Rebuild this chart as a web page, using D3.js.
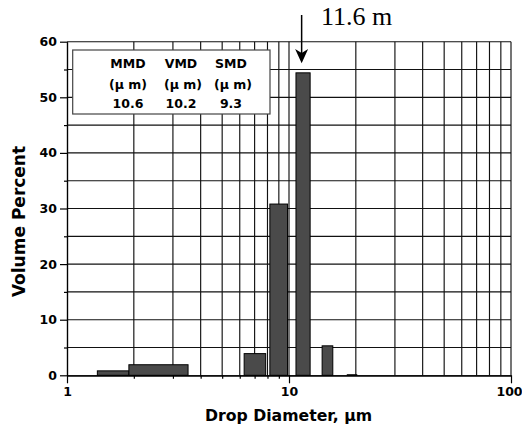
<!DOCTYPE html>
<html>
<head>
<meta charset="utf-8">
<script src="https://cdn.jsdelivr.net/npm/d3@7"></script>
<style>
  body { margin: 0; background: #fff; }
  svg text { font-family: "DejaVu Sans", Arial, sans-serif; font-weight: bold; }
</style>
</head>
<body>
<svg id="svg" width="522" height="427"></svg>
<script>
// size bins (um) and volume percent
var binLo  = [1.37, 1.90, 6.28, 8.2, 10.75, 14.1, 18.3];
var binHi  = [1.90, 3.51, 7.85, 9.85, 12.45, 15.75, 20.2];
var volume = [0.8, 1.9, 3.9, 30.8, 54.4, 5.3, 0.1];

// legend table
var legendNames  = ["MMD", "VMD", "SMD"];
var legendValues = ["10.6", "10.2", "9.3"];

// annotation
var arrowAt = 11.4;
var arrowLabel = "11.6 m";

var xTicks = [1, 10, 100];
var yTicks = [0, 10, 20, 30, 40, 50, 60];

var svg = d3.select("#svg");
var plotLeft = 67, plotRight = 511, plotTop = 41.7, plotBottom = 375.3;

var x = d3.scaleLog().domain([1, 100]).range([plotLeft, plotRight]);
var y = d3.scaleLinear().domain([0, 60]).range([plotBottom, plotTop]);

//grid
var xGrid = [];
[1, 10].forEach(function(dec){
  for (var k = 2; k <= 10; k++) xGrid.push(k * dec);
});
svg.append("g").selectAll("line").data(xGrid).enter().append("line")
  .attr("x1", function(d){return x(d)}).attr("x2", function(d){return x(d)})
  .attr("y1", plotTop).attr("y2", plotBottom)
  .attr("stroke", "#111").attr("stroke-width", 1.15);

var yGrid = d3.range(5, 61, 5);
svg.append("g").selectAll("line").data(yGrid).enter().append("line")
  .attr("x1", plotLeft).attr("x2", plotRight)
  .attr("y1", function(d){return y(d)}).attr("y2", function(d){return y(d)})
  .attr("stroke", "#111").attr("stroke-width", 1.15);

//bars
svg.append("g").selectAll("rect").data(volume).enter().append("rect")
  .attr("x", function(d, i){return x(binLo[i])})
  .attr("width", function(d, i){return x(binHi[i]) - x(binLo[i])})
  .attr("y", function(d){return y(d)})
  .attr("height", function(d){return y(0) - y(d)})
  .attr("fill", "#4a4a4a")
  .attr("stroke", "#000").attr("stroke-width", 1);

//axes
svg.append("g").attr("transform", "translate(" + plotLeft + ",0)")
  .call(d3.axisLeft(y).tickValues(yTicks).tickSize(7).tickPadding(3).tickSizeOuter(0));
svg.append("g").attr("transform", "translate(" + plotLeft + ",0)")
  .call(d3.axisLeft(y).tickValues(d3.range(5, 60, 10)).tickSize(3).tickFormat("").tickSizeOuter(0));

var xAxis = svg.append("g").attr("transform", "translate(0," + plotBottom + ")")
  .call(d3.axisBottom(x).tickValues(xTicks).tickFormat(d3.format("d")).tickSize(8).tickPadding(4).tickSizeOuter(0));
svg.append("g").attr("transform", "translate(0," + plotBottom + ")")
  .call(d3.axisBottom(x).tickValues(xGrid.filter(function(d){return d % 10 != 0})).tickSize(3.5).tickFormat("").tickSizeOuter(0));

svg.selectAll(".tick text").style("font-size", "12.5px").attr("fill", "#000");
// keep the last x label inside the picture
xAxis.selectAll(".tick text").filter(function(d){return d == 100}).attr("dx", -2);
svg.selectAll(".domain, .tick line").attr("stroke", "#000").attr("stroke-width", 1.2);

//legend box
svg.append("rect")
  .attr("x", 72.7).attr("y", 50).attr("width", 197.3).attr("height", 64)
  .attr("fill", "#fff").attr("stroke", "#444").attr("stroke-width", 1.2);

var colX = [128, 181, 231];
var legend = svg.append("g").style("font-size", "12.5px").attr("text-anchor", "middle");
legend.selectAll(".name").data(legendNames).enter().append("text")
  .attr("x", function(d, i){return colX[i]}).attr("y", 68.3).text(function(d){return d});
legend.selectAll(".unit").data(legendNames).enter().append("text")
  .attr("x", function(d, i){return colX[i] + (i > 0 ? 2 : 0)}).attr("y", 89).text("(\u00b5 m)");
legend.selectAll(".val").data(legendValues).enter().append("text")
  .attr("x", function(d, i){return colX[i]}).attr("y", 107.7).text(function(d){return d});

//arrow
var ax = x(arrowAt);
svg.append("line")
  .attr("x1", ax).attr("x2", ax).attr("y1", 15).attr("y2", 55)
  .attr("stroke", "#000").attr("stroke-width", 1.5);
svg.append("path")
  .attr("d", "M" + ax + ",63.3 L" + (ax - 6.5) + ",49 L" + ax + ",53 L" + (ax + 6.5) + ",49 Z")
  .attr("fill", "#000");
svg.append("text")
  .attr("x", 321).attr("y", 25)
  .style("font-family", "'Liberation Serif', 'Times New Roman', serif")
  .style("font-weight", "normal").style("font-size", "26px")
  .text(arrowLabel);

//axis titles
svg.append("text")
  .attr("x", 288.5).attr("y", 420.5).attr("text-anchor", "middle").style("font-size", "15.7px")
  .text("Drop Diameter, \u00b5m");
svg.append("text")
  .attr("transform", "translate(25,221.5) rotate(-90)").attr("text-anchor", "middle").style("font-size", "17px")
  .text("Volume Percent");
</script>
</body>
</html>
